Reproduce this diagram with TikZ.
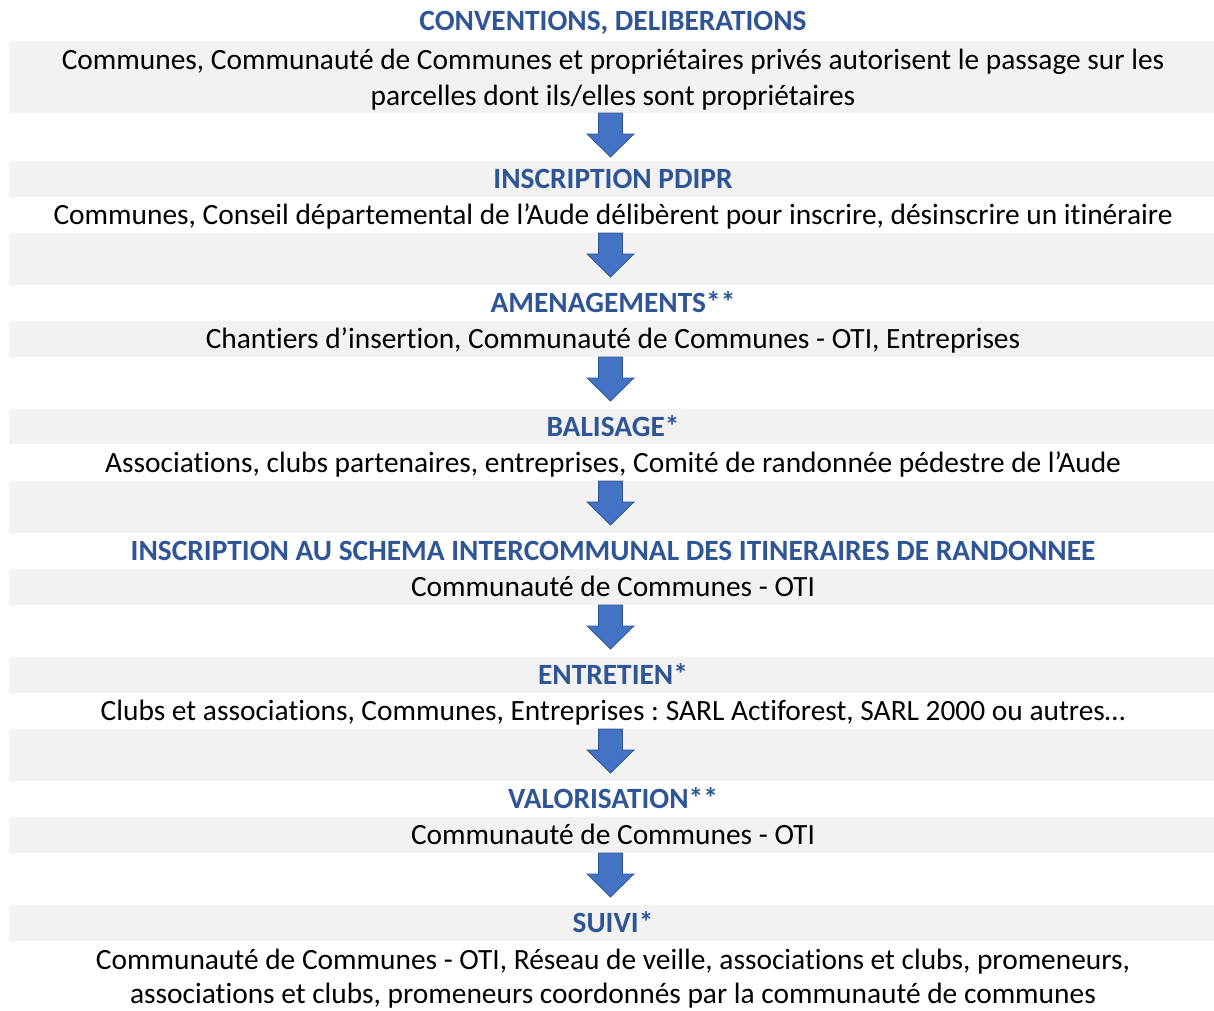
\documentclass[tikz,border=0pt]{standalone}
\usepackage{fontspec}
\setmainfont{Carlito}[Ligatures=NoCommon]
\frenchspacing
\definecolor{bandgray}{HTML}{F2F2F2}
\definecolor{titleblue}{HTML}{2F5597}
\definecolor{arrowfill}{HTML}{4472C4}
\definecolor{arrowline}{HTML}{2F528F}
\begin{document}
\begin{tikzpicture}[x=1pt,y=-1pt,
  band/.style={fill=bandgray, draw=none},
  titletext/.style={font=\fontsize{29.4}{36}\selectfont\bfseries, text=titleblue, inner sep=0pt, anchor=base},
  desctext/.style={font=\fontsize{29.4}{36}\selectfont, inner sep=0pt, anchor=base},
  blockarrow/.style={fill=arrowfill, draw=arrowline, line width=0.7pt, line join=miter}]
\useasboundingbox (0,0) rectangle (1214,1010);
% gray bands
\foreach \a/\b in {41/113,161/197,233/285,321/357,409/444,481/533,569/605,657/693,729/781,817/853,905/941}
  \fill[band] (9,\a) rectangle (1214,\b);
% texts
\node[titletext] (t1) at (613,30.7) {CONVENTIONS, DELIBERATIONS};
\node[desctext] (d1a) at (613,69.3) {Communes, Communauté de Communes et propriétaires privés autorisent le passage sur les};
\node[desctext] (d1b) at (613,105.3) {parcelles dont ils/elles sont propriétaires};
\node[titletext] (t2) at (613,188.5) {INSCRIPTION PDIPR};
\node[desctext] (d2) at (613,224.5) {Communes, Conseil départemental de l’Aude délibèrent pour inscrire, désinscrire un itinéraire};
\node[titletext] (t3) at (613,312.5) {AMENAGEMENTS**};
\node[desctext] (d3) at (613,348.5) {Chantiers d’insertion, Communauté de Communes - OTI, Entreprises};
\node[titletext] (t4) at (613,436) {BALISAGE*};
\node[desctext] (d4) at (613,472) {Associations, clubs partenaires, entreprises, Comité de randonnée pédestre de l’Aude};
\node[titletext] (t5) at (613,560.5) {INSCRIPTION AU SCHEMA INTERCOMMUNAL DES ITINERAIRES DE RANDONNEE};
\node[desctext] (d5) at (613,596.5) {Communauté de Communes - OTI};
\node[titletext] (t6) at (613,684.5) {ENTRETIEN*};
\node[desctext] (d6) at (613,720.5) {Clubs et associations, Communes, Entreprises : SARL Actiforest, SARL 2000 ou autres…};
\node[titletext] (t7) at (613,808.5) {VALORISATION**};
\node[desctext] (d7) at (613,844.5) {Communauté de Communes - OTI};
\node[titletext] (t8) at (613,932.5) {SUIVI*};
\node[desctext] (d8a) at (613,969.3) {Communauté de Communes - OTI, Réseau de veille, associations et clubs, promeneurs,};
\node[desctext] (d8b) at (613,1003.5) {associations et clubs, promeneurs coordonnés par la communauté de communes};
% block arrows
\foreach \n/\y in {1/113,2/233,3/357,4/481,5/605,6/729,7/853}{
  \coordinate (a\n) at (610.5,\y);
  \draw[blockarrow] ([xshift=-12pt]a\n) -- ([xshift=12pt]a\n) -- ([xshift=12pt,yshift=-21pt]a\n)
    -- ([xshift=23.5pt,yshift=-21pt]a\n) -- ([yshift=-44pt]a\n) -- ([xshift=-23.5pt,yshift=-21pt]a\n)
    -- ([xshift=-12pt,yshift=-21pt]a\n) -- cycle;
}
\end{tikzpicture}
\end{document}
